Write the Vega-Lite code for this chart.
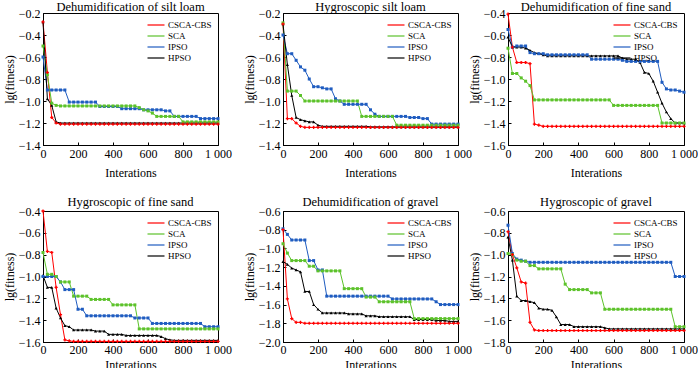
{
"$schema":"https://vega.github.io/schema/vega-lite/v6.json",
"padding":{"top":0,"left":2,"right":0,"bottom":0},
"background":"white",
"config":{
 "font":"Liberation Serif",
 "view":{"stroke":"black","strokeWidth":1},
 "axis":{"domainColor":"black","tickColor":"black","labelColor":"black","titleColor":"black","labelFont":"Liberation Serif","titleFont":"Liberation Serif","labelFontSize":12,"titleFontSize":12,"titleFontWeight":"normal","grid":false,"tickSize":-3,"labelPadding":6,"domainWidth":1,"tickWidth":1,"labelOverlap":false,"labelFlush":false},
 "axisY":{"titlePadding":2},
 "axisX":{"titlePadding":8},
 "title":{"font":"Liberation Serif","fontSize":12.5,"fontWeight":"normal","color":"black","offset":-6},
 "legend":{"labelFont":"Liberation Serif","labelFontSize":9,"labelColor":"black","orient":"top-right","offset":6,"symbolType":"M-1.7,0H1.7","symbolSize":100,"symbolStrokeWidth":1.2,"rowPadding":0,"labelOffset":6,"padding":0}
},
"datasets":{
"d1":[
{"i":0,"r":-0.28,"g":-0.50,"b":-0.60,"k":-0.28},
{"i":25,"r":-0.74,"g":-0.76,"b":-0.90,"k":-0.98},
{"i":50,"r":-1.15,"g":-1.02,"b":-0.90,"k":-1.04},
{"i":75,"r":-1.20,"g":-1.04,"b":-0.90,"k":-1.19},
{"i":100,"r":-1.21,"g":-1.045,"b":-0.90,"k":-1.20},
{"i":125,"r":-1.21,"g":-1.045,"b":-0.90,"k":-1.20},
{"i":150,"r":-1.21,"g":-1.045,"b":-1.01,"k":-1.20},
{"i":175,"r":-1.21,"g":-1.045,"b":-1.01,"k":-1.20},
{"i":200,"r":-1.21,"g":-1.045,"b":-1.01,"k":-1.20},
{"i":225,"r":-1.21,"g":-1.045,"b":-1.01,"k":-1.20},
{"i":250,"r":-1.21,"g":-1.045,"b":-1.01,"k":-1.20},
{"i":275,"r":-1.21,"g":-1.045,"b":-1.01,"k":-1.20},
{"i":300,"r":-1.21,"g":-1.045,"b":-1.01,"k":-1.20},
{"i":325,"r":-1.21,"g":-1.045,"b":-1.05,"k":-1.20},
{"i":350,"r":-1.21,"g":-1.045,"b":-1.05,"k":-1.20},
{"i":375,"r":-1.21,"g":-1.045,"b":-1.05,"k":-1.20},
{"i":400,"r":-1.21,"g":-1.045,"b":-1.05,"k":-1.20},
{"i":425,"r":-1.21,"g":-1.045,"b":-1.05,"k":-1.20},
{"i":450,"r":-1.21,"g":-1.045,"b":-1.07,"k":-1.20},
{"i":475,"r":-1.21,"g":-1.045,"b":-1.07,"k":-1.20},
{"i":500,"r":-1.21,"g":-1.045,"b":-1.07,"k":-1.20},
{"i":525,"r":-1.21,"g":-1.045,"b":-1.07,"k":-1.20},
{"i":550,"r":-1.21,"g":-1.06,"b":-1.07,"k":-1.20},
{"i":575,"r":-1.21,"g":-1.08,"b":-1.08,"k":-1.20},
{"i":600,"r":-1.21,"g":-1.09,"b":-1.08,"k":-1.20},
{"i":625,"r":-1.21,"g":-1.11,"b":-1.08,"k":-1.20},
{"i":650,"r":-1.21,"g":-1.14,"b":-1.08,"k":-1.20},
{"i":675,"r":-1.21,"g":-1.14,"b":-1.08,"k":-1.20},
{"i":700,"r":-1.21,"g":-1.14,"b":-1.09,"k":-1.20},
{"i":725,"r":-1.21,"g":-1.14,"b":-1.09,"k":-1.20},
{"i":750,"r":-1.21,"g":-1.14,"b":-1.14,"k":-1.20},
{"i":775,"r":-1.21,"g":-1.14,"b":-1.14,"k":-1.20},
{"i":800,"r":-1.21,"g":-1.19,"b":-1.14,"k":-1.20},
{"i":825,"r":-1.21,"g":-1.19,"b":-1.14,"k":-1.20},
{"i":850,"r":-1.21,"g":-1.19,"b":-1.14,"k":-1.20},
{"i":875,"r":-1.21,"g":-1.19,"b":-1.14,"k":-1.20},
{"i":900,"r":-1.21,"g":-1.19,"b":-1.16,"k":-1.20},
{"i":925,"r":-1.21,"g":-1.19,"b":-1.16,"k":-1.20},
{"i":950,"r":-1.21,"g":-1.19,"b":-1.16,"k":-1.20},
{"i":975,"r":-1.21,"g":-1.19,"b":-1.16,"k":-1.20},
{"i":1000,"r":-1.21,"g":-1.19,"b":-1.16,"k":-1.20}
],
"d2":[
{"i":0,"r":-0.30,"g":-0.29,"b":-0.40,"k":-0.30},
{"i":25,"r":-1.16,"g":-0.91,"b":-0.57,"k":-0.67},
{"i":50,"r":-1.16,"g":-0.91,"b":-0.57,"k":-0.95},
{"i":75,"r":-1.20,"g":-0.91,"b":-0.63,"k":-1.15},
{"i":100,"r":-1.23,"g":-0.95,"b":-0.69,"k":-1.17},
{"i":125,"r":-1.24,"g":-1.00,"b":-0.72,"k":-1.18},
{"i":150,"r":-1.24,"g":-1.00,"b":-0.80,"k":-1.19},
{"i":175,"r":-1.24,"g":-1.00,"b":-0.87,"k":-1.19},
{"i":200,"r":-1.24,"g":-1.00,"b":-0.87,"k":-1.22},
{"i":225,"r":-1.24,"g":-1.00,"b":-0.88,"k":-1.23},
{"i":250,"r":-1.24,"g":-1.00,"b":-0.89,"k":-1.23},
{"i":275,"r":-1.24,"g":-1.00,"b":-0.89,"k":-1.23},
{"i":300,"r":-1.24,"g":-1.00,"b":-0.98,"k":-1.23},
{"i":325,"r":-1.24,"g":-1.00,"b":-1.00,"k":-1.23},
{"i":350,"r":-1.24,"g":-1.00,"b":-1.03,"k":-1.23},
{"i":375,"r":-1.24,"g":-1.00,"b":-1.03,"k":-1.23},
{"i":400,"r":-1.24,"g":-1.00,"b":-1.03,"k":-1.23},
{"i":425,"r":-1.24,"g":-1.00,"b":-1.03,"k":-1.23},
{"i":450,"r":-1.24,"g":-1.14,"b":-1.03,"k":-1.23},
{"i":475,"r":-1.24,"g":-1.14,"b":-1.03,"k":-1.23},
{"i":500,"r":-1.24,"g":-1.14,"b":-1.08,"k":-1.235},
{"i":525,"r":-1.24,"g":-1.14,"b":-1.12,"k":-1.235},
{"i":550,"r":-1.24,"g":-1.14,"b":-1.14,"k":-1.235},
{"i":575,"r":-1.24,"g":-1.14,"b":-1.14,"k":-1.235},
{"i":600,"r":-1.24,"g":-1.14,"b":-1.14,"k":-1.235},
{"i":625,"r":-1.24,"g":-1.14,"b":-1.14,"k":-1.235},
{"i":650,"r":-1.24,"g":-1.22,"b":-1.14,"k":-1.235},
{"i":675,"r":-1.24,"g":-1.22,"b":-1.14,"k":-1.235},
{"i":700,"r":-1.24,"g":-1.22,"b":-1.14,"k":-1.235},
{"i":725,"r":-1.24,"g":-1.22,"b":-1.15,"k":-1.235},
{"i":750,"r":-1.24,"g":-1.22,"b":-1.15,"k":-1.235},
{"i":775,"r":-1.24,"g":-1.22,"b":-1.15,"k":-1.235},
{"i":800,"r":-1.24,"g":-1.22,"b":-1.16,"k":-1.235},
{"i":825,"r":-1.24,"g":-1.22,"b":-1.16,"k":-1.235},
{"i":850,"r":-1.24,"g":-1.22,"b":-1.21,"k":-1.235},
{"i":875,"r":-1.24,"g":-1.22,"b":-1.21,"k":-1.235},
{"i":900,"r":-1.24,"g":-1.22,"b":-1.21,"k":-1.235},
{"i":925,"r":-1.24,"g":-1.22,"b":-1.21,"k":-1.235},
{"i":950,"r":-1.24,"g":-1.22,"b":-1.21,"k":-1.235},
{"i":975,"r":-1.24,"g":-1.22,"b":-1.21,"k":-1.235},
{"i":1000,"r":-1.24,"g":-1.22,"b":-1.21,"k":-1.235}
],
"d3":[
{"i":0,"r":-0.41,"g":-0.72,"b":-0.55,"k":-0.62},
{"i":25,"r":-0.71,"g":-0.95,"b":-0.71,"k":-0.71},
{"i":50,"r":-0.85,"g":-0.95,"b":-0.70,"k":-0.71},
{"i":75,"r":-0.85,"g":-0.99,"b":-0.70,"k":-0.71},
{"i":100,"r":-0.85,"g":-1.02,"b":-0.70,"k":-0.72},
{"i":125,"r":-0.86,"g":-1.06,"b":-0.76,"k":-0.74},
{"i":150,"r":-1.41,"g":-1.19,"b":-0.77,"k":-0.76},
{"i":175,"r":-1.42,"g":-1.19,"b":-0.77,"k":-0.77},
{"i":200,"r":-1.43,"g":-1.19,"b":-0.77,"k":-0.78},
{"i":225,"r":-1.43,"g":-1.19,"b":-0.78,"k":-0.79},
{"i":250,"r":-1.43,"g":-1.19,"b":-0.78,"k":-0.79},
{"i":275,"r":-1.43,"g":-1.19,"b":-0.78,"k":-0.79},
{"i":300,"r":-1.43,"g":-1.19,"b":-0.78,"k":-0.79},
{"i":325,"r":-1.43,"g":-1.19,"b":-0.78,"k":-0.79},
{"i":350,"r":-1.43,"g":-1.19,"b":-0.78,"k":-0.79},
{"i":375,"r":-1.43,"g":-1.19,"b":-0.78,"k":-0.79},
{"i":400,"r":-1.43,"g":-1.19,"b":-0.78,"k":-0.79},
{"i":425,"r":-1.43,"g":-1.19,"b":-0.78,"k":-0.79},
{"i":450,"r":-1.43,"g":-1.19,"b":-0.78,"k":-0.79},
{"i":475,"r":-1.43,"g":-1.19,"b":-0.82,"k":-0.79},
{"i":500,"r":-1.43,"g":-1.19,"b":-0.82,"k":-0.79},
{"i":525,"r":-1.43,"g":-1.19,"b":-0.82,"k":-0.79},
{"i":550,"r":-1.43,"g":-1.19,"b":-0.82,"k":-0.79},
{"i":575,"r":-1.43,"g":-1.19,"b":-0.82,"k":-0.79},
{"i":600,"r":-1.43,"g":-1.24,"b":-0.82,"k":-0.79},
{"i":625,"r":-1.43,"g":-1.24,"b":-0.82,"k":-0.79},
{"i":650,"r":-1.43,"g":-1.24,"b":-0.83,"k":-0.81},
{"i":675,"r":-1.43,"g":-1.24,"b":-0.84,"k":-0.82},
{"i":700,"r":-1.43,"g":-1.24,"b":-0.84,"k":-0.82},
{"i":725,"r":-1.43,"g":-1.24,"b":-0.84,"k":-0.82},
{"i":750,"r":-1.43,"g":-1.24,"b":-0.84,"k":-0.85},
{"i":775,"r":-1.43,"g":-1.24,"b":-0.84,"k":-0.94},
{"i":800,"r":-1.43,"g":-1.24,"b":-0.84,"k":-0.95},
{"i":825,"r":-1.43,"g":-1.24,"b":-0.84,"k":-1.02},
{"i":850,"r":-1.43,"g":-1.24,"b":-0.84,"k":-1.12},
{"i":875,"r":-1.43,"g":-1.40,"b":-1.03,"k":-1.22},
{"i":900,"r":-1.43,"g":-1.40,"b":-1.09,"k":-1.30},
{"i":925,"r":-1.43,"g":-1.40,"b":-1.10,"k":-1.36},
{"i":950,"r":-1.43,"g":-1.40,"b":-1.10,"k":-1.40},
{"i":975,"r":-1.43,"g":-1.40,"b":-1.11,"k":-1.40},
{"i":1000,"r":-1.43,"g":-1.40,"b":-1.12,"k":-1.40}
],
"d4":[
{"i":0,"r":-0.40,"g":-0.78,"b":-1.00,"k":-0.99},
{"i":25,"r":-0.77,"g":-0.98,"b":-1.00,"k":-1.10},
{"i":50,"r":-0.78,"g":-0.98,"b":-1.00,"k":-1.10},
{"i":75,"r":-1.10,"g":-1.00,"b":-1.00,"k":-1.29},
{"i":100,"r":-1.35,"g":-1.05,"b":-1.05,"k":-1.38},
{"i":125,"r":-1.58,"g":-1.05,"b":-1.12,"k":-1.45},
{"i":150,"r":-1.59,"g":-1.05,"b":-1.12,"k":-1.46},
{"i":175,"r":-1.595,"g":-1.18,"b":-1.12,"k":-1.49},
{"i":200,"r":-1.595,"g":-1.18,"b":-1.30,"k":-1.49},
{"i":225,"r":-1.595,"g":-1.18,"b":-1.30,"k":-1.49},
{"i":250,"r":-1.595,"g":-1.18,"b":-1.36,"k":-1.49},
{"i":275,"r":-1.595,"g":-1.21,"b":-1.36,"k":-1.49},
{"i":300,"r":-1.595,"g":-1.21,"b":-1.36,"k":-1.50},
{"i":325,"r":-1.595,"g":-1.21,"b":-1.36,"k":-1.50},
{"i":350,"r":-1.595,"g":-1.21,"b":-1.36,"k":-1.50},
{"i":375,"r":-1.595,"g":-1.21,"b":-1.36,"k":-1.53},
{"i":400,"r":-1.595,"g":-1.26,"b":-1.36,"k":-1.53},
{"i":425,"r":-1.595,"g":-1.26,"b":-1.36,"k":-1.53},
{"i":450,"r":-1.595,"g":-1.26,"b":-1.36,"k":-1.53},
{"i":475,"r":-1.595,"g":-1.26,"b":-1.36,"k":-1.54},
{"i":500,"r":-1.595,"g":-1.26,"b":-1.36,"k":-1.54},
{"i":525,"r":-1.595,"g":-1.26,"b":-1.38,"k":-1.54},
{"i":550,"r":-1.595,"g":-1.48,"b":-1.38,"k":-1.54},
{"i":575,"r":-1.595,"g":-1.48,"b":-1.38,"k":-1.54},
{"i":600,"r":-1.595,"g":-1.48,"b":-1.38,"k":-1.54},
{"i":625,"r":-1.595,"g":-1.48,"b":-1.43,"k":-1.54},
{"i":650,"r":-1.595,"g":-1.48,"b":-1.43,"k":-1.54},
{"i":675,"r":-1.595,"g":-1.48,"b":-1.43,"k":-1.55},
{"i":700,"r":-1.595,"g":-1.48,"b":-1.43,"k":-1.57},
{"i":725,"r":-1.595,"g":-1.48,"b":-1.43,"k":-1.58},
{"i":750,"r":-1.595,"g":-1.48,"b":-1.43,"k":-1.585},
{"i":775,"r":-1.595,"g":-1.48,"b":-1.43,"k":-1.585},
{"i":800,"r":-1.595,"g":-1.48,"b":-1.43,"k":-1.585},
{"i":825,"r":-1.595,"g":-1.48,"b":-1.43,"k":-1.585},
{"i":850,"r":-1.595,"g":-1.48,"b":-1.43,"k":-1.585},
{"i":875,"r":-1.595,"g":-1.48,"b":-1.43,"k":-1.585},
{"i":900,"r":-1.595,"g":-1.48,"b":-1.43,"k":-1.585},
{"i":925,"r":-1.595,"g":-1.48,"b":-1.46,"k":-1.585},
{"i":950,"r":-1.595,"g":-1.48,"b":-1.46,"k":-1.585},
{"i":975,"r":-1.595,"g":-1.48,"b":-1.46,"k":-1.585},
{"i":1000,"r":-1.595,"g":-1.48,"b":-1.46,"k":-1.585}
],
"d5":[
{"i":0,"r":-0.80,"g":-0.95,"b":-0.79,"k":-1.14},
{"i":25,"r":-1.54,"g":-1.05,"b":-0.85,"k":-1.17},
{"i":50,"r":-1.75,"g":-1.13,"b":-0.91,"k":-1.21},
{"i":75,"r":-1.79,"g":-1.13,"b":-0.91,"k":-1.23},
{"i":100,"r":-1.79,"g":-1.13,"b":-0.91,"k":-1.25},
{"i":125,"r":-1.80,"g":-1.13,"b":-0.91,"k":-1.46},
{"i":150,"r":-1.80,"g":-1.19,"b":-1.13,"k":-1.46},
{"i":175,"r":-1.80,"g":-1.19,"b":-1.13,"k":-1.60},
{"i":200,"r":-1.80,"g":-1.24,"b":-1.23,"k":-1.65},
{"i":225,"r":-1.80,"g":-1.24,"b":-1.23,"k":-1.69},
{"i":250,"r":-1.80,"g":-1.24,"b":-1.51,"k":-1.69},
{"i":275,"r":-1.80,"g":-1.24,"b":-1.51,"k":-1.69},
{"i":300,"r":-1.80,"g":-1.24,"b":-1.51,"k":-1.69},
{"i":325,"r":-1.80,"g":-1.24,"b":-1.51,"k":-1.69},
{"i":350,"r":-1.80,"g":-1.43,"b":-1.51,"k":-1.69},
{"i":375,"r":-1.80,"g":-1.43,"b":-1.51,"k":-1.70},
{"i":400,"r":-1.80,"g":-1.43,"b":-1.51,"k":-1.70},
{"i":425,"r":-1.80,"g":-1.43,"b":-1.51,"k":-1.70},
{"i":450,"r":-1.80,"g":-1.43,"b":-1.51,"k":-1.70},
{"i":475,"r":-1.80,"g":-1.52,"b":-1.51,"k":-1.72},
{"i":500,"r":-1.80,"g":-1.52,"b":-1.51,"k":-1.72},
{"i":525,"r":-1.80,"g":-1.52,"b":-1.51,"k":-1.72},
{"i":550,"r":-1.80,"g":-1.57,"b":-1.51,"k":-1.73},
{"i":575,"r":-1.80,"g":-1.57,"b":-1.51,"k":-1.73},
{"i":600,"r":-1.80,"g":-1.57,"b":-1.51,"k":-1.73},
{"i":625,"r":-1.80,"g":-1.57,"b":-1.54,"k":-1.73},
{"i":650,"r":-1.80,"g":-1.57,"b":-1.54,"k":-1.73},
{"i":675,"r":-1.80,"g":-1.57,"b":-1.54,"k":-1.73},
{"i":700,"r":-1.80,"g":-1.57,"b":-1.54,"k":-1.73},
{"i":725,"r":-1.80,"g":-1.57,"b":-1.54,"k":-1.73},
{"i":750,"r":-1.80,"g":-1.75,"b":-1.54,"k":-1.76},
{"i":775,"r":-1.80,"g":-1.75,"b":-1.54,"k":-1.76},
{"i":800,"r":-1.80,"g":-1.75,"b":-1.54,"k":-1.76},
{"i":825,"r":-1.80,"g":-1.75,"b":-1.54,"k":-1.76},
{"i":850,"r":-1.80,"g":-1.75,"b":-1.54,"k":-1.76},
{"i":875,"r":-1.80,"g":-1.75,"b":-1.57,"k":-1.77},
{"i":900,"r":-1.80,"g":-1.75,"b":-1.60,"k":-1.77},
{"i":925,"r":-1.80,"g":-1.75,"b":-1.60,"k":-1.77},
{"i":950,"r":-1.80,"g":-1.75,"b":-1.60,"k":-1.78},
{"i":975,"r":-1.80,"g":-1.75,"b":-1.60,"k":-1.78},
{"i":1000,"r":-1.80,"g":-1.75,"b":-1.60,"k":-1.78}
],
"d6":[
{"i":0,"r":-0.79,"g":-0.99,"b":-0.73,"k":-0.84},
{"i":25,"r":-1.00,"g":-1.00,"b":-0.99,"k":-1.05},
{"i":50,"r":-1.12,"g":-1.05,"b":-1.04,"k":-1.38},
{"i":75,"r":-1.25,"g":-1.06,"b":-1.05,"k":-1.42},
{"i":100,"r":-1.26,"g":-1.06,"b":-1.06,"k":-1.42},
{"i":125,"r":-1.62,"g":-1.10,"b":-1.07,"k":-1.43},
{"i":150,"r":-1.69,"g":-1.10,"b":-1.07,"k":-1.44},
{"i":175,"r":-1.695,"g":-1.13,"b":-1.07,"k":-1.49},
{"i":200,"r":-1.695,"g":-1.13,"b":-1.07,"k":-1.50},
{"i":225,"r":-1.695,"g":-1.13,"b":-1.07,"k":-1.50},
{"i":250,"r":-1.695,"g":-1.13,"b":-1.07,"k":-1.51},
{"i":275,"r":-1.695,"g":-1.13,"b":-1.07,"k":-1.57},
{"i":300,"r":-1.695,"g":-1.13,"b":-1.07,"k":-1.64},
{"i":325,"r":-1.695,"g":-1.27,"b":-1.07,"k":-1.64},
{"i":350,"r":-1.695,"g":-1.32,"b":-1.07,"k":-1.64},
{"i":375,"r":-1.695,"g":-1.32,"b":-1.07,"k":-1.66},
{"i":400,"r":-1.695,"g":-1.32,"b":-1.07,"k":-1.66},
{"i":425,"r":-1.695,"g":-1.32,"b":-1.07,"k":-1.66},
{"i":450,"r":-1.695,"g":-1.32,"b":-1.07,"k":-1.66},
{"i":475,"r":-1.695,"g":-1.35,"b":-1.07,"k":-1.66},
{"i":500,"r":-1.695,"g":-1.35,"b":-1.07,"k":-1.66},
{"i":525,"r":-1.695,"g":-1.35,"b":-1.07,"k":-1.66},
{"i":550,"r":-1.695,"g":-1.50,"b":-1.07,"k":-1.67},
{"i":575,"r":-1.695,"g":-1.50,"b":-1.07,"k":-1.68},
{"i":600,"r":-1.695,"g":-1.50,"b":-1.07,"k":-1.68},
{"i":625,"r":-1.695,"g":-1.50,"b":-1.07,"k":-1.68},
{"i":650,"r":-1.695,"g":-1.50,"b":-1.07,"k":-1.68},
{"i":675,"r":-1.695,"g":-1.50,"b":-1.07,"k":-1.68},
{"i":700,"r":-1.695,"g":-1.50,"b":-1.07,"k":-1.68},
{"i":725,"r":-1.695,"g":-1.50,"b":-1.07,"k":-1.68},
{"i":750,"r":-1.695,"g":-1.50,"b":-1.07,"k":-1.68},
{"i":775,"r":-1.695,"g":-1.50,"b":-1.07,"k":-1.68},
{"i":800,"r":-1.695,"g":-1.50,"b":-1.07,"k":-1.68},
{"i":825,"r":-1.695,"g":-1.50,"b":-1.07,"k":-1.68},
{"i":850,"r":-1.695,"g":-1.50,"b":-1.07,"k":-1.68},
{"i":875,"r":-1.695,"g":-1.50,"b":-1.07,"k":-1.68},
{"i":900,"r":-1.695,"g":-1.50,"b":-1.07,"k":-1.68},
{"i":925,"r":-1.695,"g":-1.50,"b":-1.07,"k":-1.68},
{"i":950,"r":-1.695,"g":-1.66,"b":-1.20,"k":-1.68},
{"i":975,"r":-1.695,"g":-1.66,"b":-1.20,"k":-1.68},
{"i":1000,"r":-1.695,"g":-1.66,"b":-1.20,"k":-1.68}
]
},
"vconcat":[
{"hconcat":[
 {"title":"Dehumidification of silt loam","width":175,"height":132,"data":{"name":"d1"},
  "transform":[{"fold":["r","g","b","k"],"as":["s","v"]}],
  "encoding":{
   "x":{"field":"i","type":"quantitative","scale":{"domain":[0,1000]},"axis":{"values":[0,200,400,600,800,1000],"title":"Interations","labelExpr":"datum.value==1000?'1 000':datum.label"}},
   "y":{"field":"v","type":"quantitative","scale":{"domain":[-1.4,-0.2]},"axis":{"values":[-1.4,-1.2,-1.0,-0.8,-0.6,-0.4,-0.2],"format":".1f","title":"lg(fitness)"}}
  },
  "layer":[
   {"mark":{"type":"line","strokeWidth":1},"encoding":{"color":{"field":"s","type":"nominal","scale":{"domain":["r","g","b","k"],"range":["#ff0000","#5cc22a","#1f5cc0","#000000"]},"legend":{"title":null,"labelExpr":"datum.label=='r'?'CSCA-CBS':datum.label=='g'?'SCA':datum.label=='b'?'IPSO':'HPSO'"}}}},
   {"transform":[{"filter":{"field":"s","equal":"k"}}],"mark":{"type":"point","shape":"triangle-up","filled":true,"color":"#000000","size":10,"opacity":1}},
   {"transform":[{"filter":{"field":"s","equal":"b"}}],"mark":{"type":"point","shape":"square","filled":true,"color":"#1f5cc0","size":9,"opacity":1}},
   {"transform":[{"filter":{"field":"s","equal":"g"}}],"mark":{"type":"point","shape":"square","filled":true,"color":"#5cc22a","size":9,"opacity":1}},
   {"transform":[{"filter":{"field":"s","equal":"r"}}],"mark":{"type":"point","shape":"cross","filled":true,"color":"#ff0000","size":10,"opacity":1}}
  ]},
 {"hconcat":[
 {"title":"Hygroscopic silt loam","width":175,"height":132,"data":{"name":"d2"},
  "transform":[{"fold":["r","g","b","k"],"as":["s","v"]}],
  "encoding":{
   "x":{"field":"i","type":"quantitative","scale":{"domain":[0,1000]},"axis":{"values":[0,200,400,600,800,1000],"title":"Interations","labelExpr":"datum.value==1000?'1 000':datum.label"}},
   "y":{"field":"v","type":"quantitative","scale":{"domain":[-1.4,-0.2]},"axis":{"values":[-1.4,-1.2,-1.0,-0.8,-0.6,-0.4,-0.2],"format":".1f","title":"lg(fitness)"}}
  },
  "layer":[
   {"mark":{"type":"line","strokeWidth":1},"encoding":{"color":{"field":"s","type":"nominal","scale":{"domain":["r","g","b","k"],"range":["#ff0000","#5cc22a","#1f5cc0","#000000"]},"legend":{"title":null,"labelExpr":"datum.label=='r'?'CSCA-CBS':datum.label=='g'?'SCA':datum.label=='b'?'IPSO':'HPSO'"}}}},
   {"transform":[{"filter":{"field":"s","equal":"k"}}],"mark":{"type":"point","shape":"triangle-up","filled":true,"color":"#000000","size":10,"opacity":1}},
   {"transform":[{"filter":{"field":"s","equal":"b"}}],"mark":{"type":"point","shape":"square","filled":true,"color":"#1f5cc0","size":9,"opacity":1}},
   {"transform":[{"filter":{"field":"s","equal":"g"}}],"mark":{"type":"point","shape":"square","filled":true,"color":"#5cc22a","size":9,"opacity":1}},
   {"transform":[{"filter":{"field":"s","equal":"r"}}],"mark":{"type":"point","shape":"cross","filled":true,"color":"#ff0000","size":10,"opacity":1}}
  ]},
 {"title":"Dehumidification of fine sand","width":176,"height":132,"data":{"name":"d3"},
  "transform":[{"fold":["r","g","b","k"],"as":["s","v"]}],
  "encoding":{
   "x":{"field":"i","type":"quantitative","scale":{"domain":[0,1000]},"axis":{"values":[0,200,400,600,800,1000],"title":"Interations","labelExpr":"datum.value==1000?'1 000':datum.label"}},
   "y":{"field":"v","type":"quantitative","scale":{"domain":[-1.6,-0.4]},"axis":{"values":[-1.6,-1.4,-1.2,-1.0,-0.8,-0.6,-0.4],"format":".1f","title":"lg(fitness)"}}
  },
  "layer":[
   {"mark":{"type":"line","strokeWidth":1},"encoding":{"color":{"field":"s","type":"nominal","scale":{"domain":["r","g","b","k"],"range":["#ff0000","#5cc22a","#1f5cc0","#000000"]},"legend":{"title":null,"labelExpr":"datum.label=='r'?'CSCA-CBS':datum.label=='g'?'SCA':datum.label=='b'?'IPSO':'HPSO'"}}}},
   {"transform":[{"filter":{"field":"s","equal":"k"}}],"mark":{"type":"point","shape":"triangle-up","filled":true,"color":"#000000","size":10,"opacity":1}},
   {"transform":[{"filter":{"field":"s","equal":"b"}}],"mark":{"type":"point","shape":"square","filled":true,"color":"#1f5cc0","size":9,"opacity":1}},
   {"transform":[{"filter":{"field":"s","equal":"g"}}],"mark":{"type":"point","shape":"square","filled":true,"color":"#5cc22a","size":9,"opacity":1}},
   {"transform":[{"filter":{"field":"s","equal":"r"}}],"mark":{"type":"point","shape":"cross","filled":true,"color":"#ff0000","size":10,"opacity":1}}
  ]}
 ],
 "spacing":-5,
 "resolve":{"scale":{"x":"independent","y":"independent","color":"independent"},"legend":{"color":"independent"}}
 }
 ],
 "spacing":10,
 "resolve":{"scale":{"x":"independent","y":"independent","color":"independent"},"legend":{"color":"independent"}}
},
{"hconcat":[
 {"title":{"text":"Hygroscopic of fine sand","offset":-3},"width":175,"height":131,"data":{"name":"d4"},
  "transform":[{"fold":["r","g","b","k"],"as":["s","v"]}],
  "encoding":{
   "x":{"field":"i","type":"quantitative","scale":{"domain":[0,1000]},"axis":{"values":[0,200,400,600,800,1000],"title":"Interations","titlePadding":4,"labelPadding":5,"labelExpr":"datum.value==1000?'1 000':datum.label"}},
   "y":{"field":"v","type":"quantitative","scale":{"domain":[-1.6,-0.4]},"axis":{"values":[-1.6,-1.4,-1.2,-1.0,-0.8,-0.6,-0.4],"format":".1f","title":"lg(fitness)"}}
  },
  "layer":[
   {"mark":{"type":"line","strokeWidth":1},"encoding":{"color":{"field":"s","type":"nominal","scale":{"domain":["r","g","b","k"],"range":["#ff0000","#5cc22a","#1f5cc0","#000000"]},"legend":{"title":null,"labelExpr":"datum.label=='r'?'CSCA-CBS':datum.label=='g'?'SCA':datum.label=='b'?'IPSO':'HPSO'"}}}},
   {"transform":[{"filter":{"field":"s","equal":"k"}}],"mark":{"type":"point","shape":"triangle-up","filled":true,"color":"#000000","size":10,"opacity":1}},
   {"transform":[{"filter":{"field":"s","equal":"b"}}],"mark":{"type":"point","shape":"square","filled":true,"color":"#1f5cc0","size":9,"opacity":1}},
   {"transform":[{"filter":{"field":"s","equal":"g"}}],"mark":{"type":"point","shape":"square","filled":true,"color":"#5cc22a","size":9,"opacity":1}},
   {"transform":[{"filter":{"field":"s","equal":"r"}}],"mark":{"type":"point","shape":"cross","filled":true,"color":"#ff0000","size":10,"opacity":1}}
  ]},
 {"hconcat":[
 {"title":{"text":"Dehumidification of gravel","offset":-3},"width":175,"height":131,"data":{"name":"d5"},
  "transform":[{"fold":["r","g","b","k"],"as":["s","v"]}],
  "encoding":{
   "x":{"field":"i","type":"quantitative","scale":{"domain":[0,1000]},"axis":{"values":[0,200,400,600,800,1000],"title":"Interations","titlePadding":4,"labelPadding":5,"labelExpr":"datum.value==1000?'1 000':datum.label"}},
   "y":{"field":"v","type":"quantitative","scale":{"domain":[-2.0,-0.6]},"axis":{"values":[-2.0,-1.8,-1.6,-1.4,-1.2,-1.0,-0.8,-0.6],"format":".1f","title":"lg(fitness)"}}
  },
  "layer":[
   {"mark":{"type":"line","strokeWidth":1},"encoding":{"color":{"field":"s","type":"nominal","scale":{"domain":["r","g","b","k"],"range":["#ff0000","#5cc22a","#1f5cc0","#000000"]},"legend":{"title":null,"labelExpr":"datum.label=='r'?'CSCA-CBS':datum.label=='g'?'SCA':datum.label=='b'?'IPSO':'HPSO'"}}}},
   {"transform":[{"filter":{"field":"s","equal":"k"}}],"mark":{"type":"point","shape":"triangle-up","filled":true,"color":"#000000","size":10,"opacity":1}},
   {"transform":[{"filter":{"field":"s","equal":"b"}}],"mark":{"type":"point","shape":"square","filled":true,"color":"#1f5cc0","size":9,"opacity":1}},
   {"transform":[{"filter":{"field":"s","equal":"g"}}],"mark":{"type":"point","shape":"square","filled":true,"color":"#5cc22a","size":9,"opacity":1}},
   {"transform":[{"filter":{"field":"s","equal":"r"}}],"mark":{"type":"point","shape":"cross","filled":true,"color":"#ff0000","size":10,"opacity":1}}
  ]},
 {"title":{"text":"Hygroscopic of gravel","offset":-3},"width":176,"height":131,"data":{"name":"d6"},
  "transform":[{"fold":["r","g","b","k"],"as":["s","v"]}],
  "encoding":{
   "x":{"field":"i","type":"quantitative","scale":{"domain":[0,1000]},"axis":{"values":[0,200,400,600,800,1000],"title":"Interations","titlePadding":4,"labelPadding":5,"labelExpr":"datum.value==1000?'1 000':datum.label"}},
   "y":{"field":"v","type":"quantitative","scale":{"domain":[-1.8,-0.6]},"axis":{"values":[-1.8,-1.6,-1.4,-1.2,-1.0,-0.8,-0.6],"format":".1f","title":"lg(fitness)"}}
  },
  "layer":[
   {"mark":{"type":"line","strokeWidth":1},"encoding":{"color":{"field":"s","type":"nominal","scale":{"domain":["r","g","b","k"],"range":["#ff0000","#5cc22a","#1f5cc0","#000000"]},"legend":{"title":null,"labelExpr":"datum.label=='r'?'CSCA-CBS':datum.label=='g'?'SCA':datum.label=='b'?'IPSO':'HPSO'"}}}},
   {"transform":[{"filter":{"field":"s","equal":"k"}}],"mark":{"type":"point","shape":"triangle-up","filled":true,"color":"#000000","size":10,"opacity":1}},
   {"transform":[{"filter":{"field":"s","equal":"b"}}],"mark":{"type":"point","shape":"square","filled":true,"color":"#1f5cc0","size":9,"opacity":1}},
   {"transform":[{"filter":{"field":"s","equal":"g"}}],"mark":{"type":"point","shape":"square","filled":true,"color":"#5cc22a","size":9,"opacity":1}},
   {"transform":[{"filter":{"field":"s","equal":"r"}}],"mark":{"type":"point","shape":"cross","filled":true,"color":"#ff0000","size":10,"opacity":1}}
  ]}
 ],
 "spacing":-5,
 "resolve":{"scale":{"x":"independent","y":"independent","color":"independent"},"legend":{"color":"independent"}}
 }
 ],
 "spacing":10,
 "resolve":{"scale":{"x":"independent","y":"independent","color":"independent"},"legend":{"color":"independent"}}
}
],
"spacing":16,
"resolve":{"scale":{"x":"independent","y":"independent","color":"independent"},"legend":{"color":"independent"}}
}
